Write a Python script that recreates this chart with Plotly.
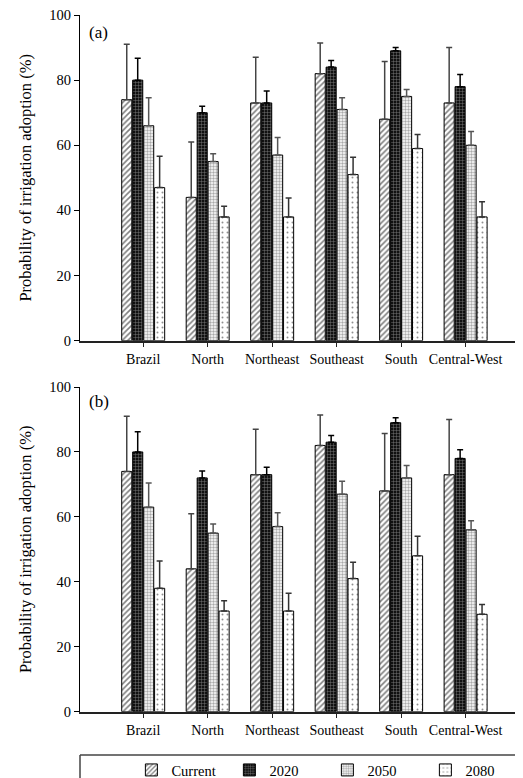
import plotly.graph_objects as go

categories = ["Brazil", "North", "Northeast", "Southeast", "South", "Central-West"]
series_names = ["Current", "2020", "2050", "2080"]

# Panel (a) means and upper error amounts
a_current = [74, 44, 73, 82, 68, 73]
a_current_err = [17, 17, 14, 9.4, 17.7, 17]
a_2020 = [80, 70, 73, 84, 89, 78]
a_2020_err = [6.7, 2, 3.7, 2, 1, 3.7]
a_2050 = [66, 55, 57, 71, 75, 60]
a_2050_err = [8.6, 2.4, 5.4, 3.6, 2.1, 4.2]
a_2080 = [47, 38, 38, 51, 59, 38]
a_2080_err = [9.6, 3.3, 5.8, 5.3, 4.3, 4.7]

# Panel (b) means and upper error amounts
b_current = [74, 44, 73, 82, 68, 73]
b_current_err = [17, 17, 14, 9.4, 17.7, 17]
b_2020 = [80, 72, 73, 83, 89, 78]
b_2020_err = [6.2, 2.1, 2.3, 2.1, 1.5, 2.7]
b_2050 = [63, 55, 57, 67, 72, 56]
b_2050_err = [7.4, 2.8, 4.3, 4, 3.8, 2.8]
b_2080 = [38, 31, 31, 41, 48, 30]
b_2080_err = [8.4, 3.2, 5.5, 5, 6, 3]

y_ticks = [0, 20, 40, 60, 80, 100]

FONT = "Liberation Serif"

styles = {
    "Current": dict(pattern=dict(shape="/", fgcolor="black", bgcolor="white", size=4, solidity=0.4),
                    err="#444444"),
    "2020": dict(pattern=dict(shape="+", fgcolor="white", bgcolor="#111111", size=3, solidity=0.25),
                 err="#000000"),
    "2050": dict(pattern=dict(shape=".", fgcolor="#555555", bgcolor="white", size=3, solidity=0.5),
                 err="#555555"),
    "2080": dict(pattern=dict(shape=".", fgcolor="#222222", bgcolor="white", size=5, solidity=0.12),
                 err="#333333"),
}

panel_a = [(a_current, a_current_err), (a_2020, a_2020_err), (a_2050, a_2050_err), (a_2080, a_2080_err)]
panel_b = [(b_current, b_current_err), (b_2020, b_2020_err), (b_2050, b_2050_err), (b_2080, b_2080_err)]

fig = go.Figure()
for panel, (xa, ya, show) in zip([panel_a, panel_b], [("x", "y", True), ("x2", "y2", False)]):
    for name, (vals, errs) in zip(series_names, panel):
        st = styles[name]
        fig.add_trace(go.Bar(
            x=categories, y=vals, name=name, legendgroup=name, showlegend=show,
            xaxis=xa, yaxis=ya,
            marker=dict(color="white", pattern=st["pattern"], line=dict(color="black", width=1)),
            error_y=dict(type="data", symmetric=False, array=errs, arrayminus=[0] * len(errs),
                         color=st["err"], thickness=1.5, width=3),
        ))

# page body has an 8px margin, so the figure is drawn 8px in from the window corner
OFF = 8
W = 523 - OFF
H = 778.0 - OFF
def dom(top_px, bot_px):
    return [1 - (bot_px - OFF) / H, 1 - (top_px - OFF) / H]
def py(px):
    return 1 - (px - OFF) / H

xcommon = dict(showline=True, linecolor="#222", linewidth=1.5, ticks="outside", ticklen=5,
               tickcolor="#222", tickfont=dict(family=FONT, size=14, color="black"),
               range=[-0.98, 5.89], showgrid=False, zeroline=False, type="category",
               automargin=False)
ycommon = dict(showline=True, linecolor="black", linewidth=1, ticks="outside", ticklen=5,
               tickcolor="black", tickvals=y_ticks, range=[0, 100], showgrid=False, zeroline=False,
               tickfont=dict(family=FONT, size=14.5, color="black"), automargin=False,
               ticklabeloverflow="allow",
               title=dict(text="Probability of irrigation adoption (%)",
                          font=dict(family=FONT, size=16.5, color="black"), standoff=13))

fig.update_layout(
    width=W, height=int(H),
    margin=dict(l=80 - OFF, r=0, t=0, b=0, autoexpand=False),
    paper_bgcolor="white", plot_bgcolor="white",
    barmode="group", bargap=0.32, bargroupgap=0.08,
    font=dict(family=FONT, color="black"),
    xaxis=dict(domain=[0, 1], anchor="y", **xcommon),
    yaxis=dict(domain=dom(15, 340.7), anchor="x", **ycommon),
    xaxis2=dict(domain=[0, 1], anchor="y2", **xcommon),
    yaxis2=dict(domain=dom(387, 711.7), anchor="x2", **ycommon),
    legend=dict(orientation="h", x=0.116, xanchor="left", y=py(770), yanchor="middle",
                font=dict(family=FONT, size=14.5, color="black"),
                entrywidth=53, entrywidthmode="pixels", bgcolor="rgba(0,0,0,0)",
                traceorder="normal"),
    annotations=[
        dict(text="(a)", xref="paper", yref="paper", x=7 / 443, y=py(33),
             xanchor="left", yanchor="middle", showarrow=False,
             font=dict(family=FONT, size=17, color="black")),
        dict(text="(b)", xref="paper", yref="paper", x=7 / 443, y=py(401),
             xanchor="left", yanchor="middle", showarrow=False,
             font=dict(family=FONT, size=17, color="black")),
    ],
    shapes=[
        dict(type="line", xref="paper", yref="paper", x0=0, x1=1, y0=py(755), y1=py(755),
             line=dict(color="#444", width=1.5)),
        dict(type="line", xref="paper", yref="paper", x0=0, x1=0, y0=py(755), y1=0,
             line=dict(color="#444", width=1.5)),
    ],
)

fig.write_html("out.html")
